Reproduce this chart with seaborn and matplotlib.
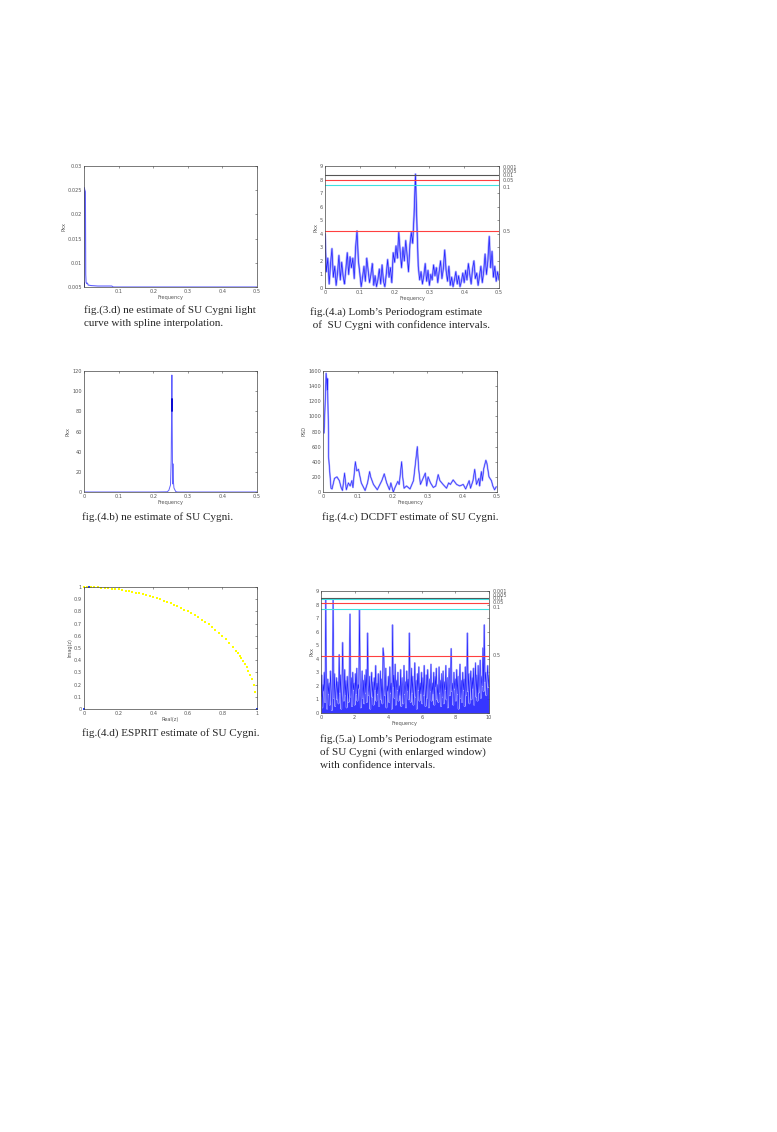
import numpy as np
import matplotlib
matplotlib.use('Agg')
import matplotlib.pyplot as plt
import seaborn as sns

# fig.(3.d) spline-interpolated light curve estimate
f_3d = [0.0, 0.001, 0.002, 0.003, 0.004, 0.005, 0.006, 0.008, 0.01, 0.012,
        0.02, 0.04, 0.06, 0.08, 0.085, 0.1, 0.2, 0.3, 0.4, 0.5]
p_3d = [0.0058, 0.0255, 0.0251, 0.0249, 0.0247, 0.0076, 0.0060, 0.0057, 0.0058, 0.0054,
        0.0053, 0.0052, 0.0052, 0.0052, 0.0050, 0.0050, 0.0050, 0.0050, 0.0050, 0.0050]

# fig.(4.a) Lomb periodogram, 0..0.5
p_4a = [4.0, 1.2, 2.2, 0.3, 1.8, 2.9, 0.8, 1.6, 0.2, 1.1,
        2.4, 0.6, 1.9, 0.9, 0.3, 1.4, 2.6, 1.0, 2.3, 1.5,
        2.2, 0.7, 3.0, 4.2, 2.0, 1.1, 0.1, 0.8, 1.6, 0.5,
        2.2, 1.3, 0.4, 1.0, 1.8, 0.2, 0.9, 0.1, 0.6, 1.4,
        0.3, 1.7, 0.5, 0.1, 1.0, 2.1, 0.8, 1.5, 0.4, 2.6,
        1.9, 3.1, 2.2, 4.1, 2.7, 1.5, 3.0, 2.0, 3.5, 2.4,
        1.2, 3.2, 4.1, 3.3, 5.4, 8.4, 4.8, 1.6, 0.6, 1.2,
        0.3, 0.9, 1.8, 0.5, 1.3, 0.2, 1.0, 0.6, 1.7, 0.9,
        1.5, 0.4, 1.2, 2.0, 0.7, 1.4, 2.8, 1.3, 0.5, 1.6,
        0.2, 0.8, 0.1, 0.6, 1.2, 0.3, 0.9, 0.1, 0.5, 1.1,
        0.4, 1.3, 0.6, 1.8, 1.0, 0.3, 1.4, 2.0, 0.7, 1.1,
        0.2, 0.9, 1.6, 0.4, 1.2, 2.5, 1.0, 2.0, 3.8, 1.5,
        2.7, 0.8, 1.6, 0.5, 1.2, 0.6]
lines_4a = [8.33, 7.94, 7.57, 4.17]
line_cols_4a = ['#555555', '#ff4040', '#40e0e0', '#ff4040']
sig_labels = ['0.001', '0.005', '0.01', '0.05', '0.1', '0.5']
sig_pos_4a = [8.9, 8.6, 8.3, 7.95, 7.45, 4.17]

# fig.(4.b) estimate
f_4b = [0.0, 0.1, 0.2, 0.24, 0.245, 0.25, 0.252, 0.254, 0.2545, 0.256, 0.257, 0.258,
        0.26, 0.265, 0.27, 0.3, 0.4, 0.5]
p_4b = [0.0, 0.0, 0.0, 0.2, 1.5, 7.0, 32.0, 116.0, 90.0, 8.0, 28.0, 12.0,
        4.0, 0.5, 0.0, 0.0, 0.0, 0.0]
peak_core_4b = [80.0, 92.0]

# fig.(4.c) DCDFT
f_4c = [0.003, 0.006, 0.009, 0.012, 0.013, 0.014, 0.016, 0.016, 0.023, 0.026,
        0.033, 0.040, 0.047, 0.052, 0.056, 0.062, 0.067, 0.073, 0.078, 0.083,
        0.086, 0.093, 0.097, 0.102, 0.110, 0.121, 0.128, 0.134, 0.137, 0.145,
        0.156, 0.169, 0.176, 0.183, 0.191, 0.195, 0.202, 0.207, 0.215, 0.219,
        0.226, 0.229, 0.233, 0.240, 0.250, 0.260, 0.271, 0.275, 0.280, 0.294,
        0.298, 0.302, 0.309, 0.317, 0.324, 0.331, 0.336, 0.345, 0.355, 0.361,
        0.366, 0.374, 0.384, 0.393, 0.403, 0.410, 0.420, 0.424, 0.431, 0.436,
        0.441, 0.448, 0.450, 0.455, 0.458, 0.462, 0.468, 0.471, 0.477, 0.484,
        0.488, 0.493, 0.498]
p_4c = [780, 1150, 1570, 1350, 1500, 1200, 780, 470, 50, 40,
        180, 200, 150, 60, 20, 250, 30, 120, 80, 150,
        60, 400, 280, 300, 120, 20, 120, 270, 200, 100,
        30, 150, 240, 120, 30, 120, 0, 60, 140, 100,
        400, 200, 50, 80, 40, 150, 600, 300, 100, 250,
        80, 200, 120, 60, 80, 230, 150, 100, 50, 120,
        100, 160, 100, 80, 100, 40, 150, 50, 150, 300,
        100, 180, 80, 270, 150, 310, 420, 380, 200, 150,
        80, 30, 70]

# fig.(4.d) ESPRIT roots
real_z = [0.00, 0.02, 0.04, 0.06, 0.08, 0.10, 0.12, 0.14, 0.16, 0.18,
          0.20, 0.22, 0.24, 0.26, 0.28, 0.30, 0.32, 0.34, 0.36, 0.38,
          0.40, 0.42, 0.44, 0.46, 0.48, 0.50, 0.52, 0.54, 0.56, 0.58,
          0.60, 0.62, 0.64, 0.66, 0.68, 0.70, 0.72, 0.74, 0.76, 0.78,
          0.80, 0.82, 0.84, 0.86, 0.88, 0.89, 0.90, 0.91, 0.92, 0.93,
          0.94, 0.95, 0.96, 0.97, 0.98, 0.99]
imag_z = [1.000, 1.000, 0.999, 0.998, 0.997, 0.995, 0.993, 0.990, 0.987, 0.984,
          0.980, 0.975, 0.971, 0.966, 0.960, 0.954, 0.947, 0.940, 0.933, 0.925,
          0.917, 0.908, 0.898, 0.888, 0.877, 0.866, 0.854, 0.842, 0.828, 0.815,
          0.800, 0.785, 0.768, 0.751, 0.733, 0.714, 0.694, 0.673, 0.650, 0.626,
          0.600, 0.572, 0.543, 0.510, 0.475, 0.456, 0.436, 0.415, 0.392, 0.368,
          0.341, 0.312, 0.280, 0.243, 0.199, 0.141]
real_other = [0.03, 0.0, 1.0]
imag_other = [1.0, 0.0, 0.0]

# fig.(5.a) Lomb periodogram, enlarged window, 0..10
p_5a = [1.2, 2.8, 0.4, 2.1, 1.6, 3.0, 0.8, 8.4, 1.9, 0.3, 2.5, 1.4, 2.2, 0.6, 3.1, 1.8, 0.2, 2.4, 8.4, 1.1, 2.9, 0.5, 1.7, 2.6, 1.0,
        2.3, 0.7, 4.3, 1.5, 2.8, 0.3, 1.9, 5.2, 2.0, 0.9, 3.2, 1.3, 2.4, 0.4, 2.7, 1.6, 0.8, 3.4, 7.3, 1.2, 2.6, 0.5, 3.0, 1.7, 2.2,
        0.6, 2.9, 1.4, 3.3, 0.9, 2.1, 1.8, 7.6, 2.5, 0.4, 1.6, 3.1, 1.1, 2.4, 0.7, 2.8, 1.5, 3.2, 0.8, 5.9, 2.0, 1.3, 2.7, 0.3, 1.9,
        3.0, 1.2, 2.3, 0.6, 2.6, 1.7, 3.5, 0.9, 2.2, 1.4, 2.9, 0.5, 1.8, 3.1, 1.0, 2.5, 0.7, 4.8, 4.3, 2.1, 1.3, 3.3, 0.4, 2.0, 1.6,
        2.7, 0.8, 3.4, 1.5, 2.2, 0.3, 6.5, 1.9, 2.8, 1.1, 3.6, 0.6, 2.4, 1.7, 3.0, 0.9, 2.0, 1.3, 3.2, 0.5, 2.6, 1.8, 0.7, 3.5, 1.4,
        2.3, 0.4, 3.1, 1.6, 2.5, 1.0, 5.9, 2.1, 0.8, 3.3, 1.5, 2.7, 0.6, 1.9, 3.7, 1.2, 2.4, 0.3, 2.9, 1.7, 3.4, 0.9, 2.2, 1.4, 3.0,
        0.7, 2.6, 1.3, 3.5, 1.8, 0.5, 2.8, 1.1, 3.2, 2.0, 0.4, 2.5, 1.6, 3.6, 0.9, 2.2, 1.4, 3.0, 0.6, 2.7, 1.9, 3.3, 1.0, 2.1, 0.8,
        3.4, 1.5, 2.4, 0.5, 2.9, 1.2, 3.1, 0.7, 2.3, 1.7, 3.5, 1.0, 2.6, 0.4, 2.0, 3.3, 1.3, 2.8, 4.75, 1.6, 2.2, 0.6, 3.0, 1.8, 2.5,
        0.9, 3.2, 1.4, 2.7, 0.3, 2.1, 3.6, 1.1, 2.4, 0.8, 3.0, 1.7, 2.5, 0.5, 3.4, 1.3, 2.0, 5.9, 1.6, 2.9, 0.7, 2.3, 3.1, 1.0, 2.6,
        1.8, 3.3, 0.6, 2.2, 3.7, 1.2, 2.8, 0.9, 3.5, 1.5, 2.4, 3.9, 1.1, 2.7, 2.0, 4.8, 1.6, 6.5, 2.3, 3.0, 1.3, 2.6, 3.5, 1.9, 2.8]
lines_5a = [8.45, 8.38, 8.09, 7.64, 4.24]
line_cols_5a = ['#555555', '#40e0e0', '#ff4040', '#40e0e0', '#ff4040']
sig_pos_5a = [8.95, 8.7, 8.45, 8.15, 7.75, 4.24]

sns.set_style('white')
plt.rcParams['font.family'] = ['DejaVu Sans']
TICK = 3.6
LIGHT = '#a8a8ff'
DARK = '#2020ff'

fig = plt.figure(figsize=(7.77, 11.32), dpi=100)


def box(px):
    # pixel box (left, top, right, bottom) -> figure axes
    l, t, r, b = px
    return fig.add_axes([l / 777, 1 - b / 1132, (r - l) / 777, (b - t) / 1132])


def style(ax, xlabel, ylabel):
    for s in ax.spines.values():
        s.set_linewidth(0.5)
        s.set_color('#444444')
    ax.tick_params(direction='in', length=1.5, width=0.4, labelsize=TICK,
                   top=True, right=True, pad=1.5, colors='#444444', labelcolor='#555555')
    ax.set_xlabel(xlabel, fontsize=TICK, labelpad=0.5, color='#555555')
    ax.set_ylabel(ylabel, fontsize=TICK, labelpad=1, color='#555555')


def caption(x, y, lines):
    for i, s in enumerate(lines):
        fig.text(x / 777, 1 - (y + 13 * i) / 1132, s, fontsize=8,
                 family='Liberation Serif', va='center', ha='left')


# 3.d
ax = box((84, 166, 257, 287))
sns.lineplot(x=f_3d, y=p_3d, ax=ax, color='#6060ff', lw=0.8, estimator=None)
ax.plot([0, 0], [0.005, 0.0058], color='#0000aa', lw=1.2)
ax.set_xlim(0, 0.5)
ax.set_ylim(0.005, 0.03)
ax.set_xticks([0, 0.1, 0.2, 0.3, 0.4, 0.5], ['', '0.1', '0.2', '0.3', '0.4', '0.5'])
ax.set_yticks([0.005, 0.01, 0.015, 0.02, 0.025, 0.03],
              ['0.005', '0.01', '0.015', '0.02', '0.025', '0.03'])
style(ax, 'Frequency', 'Pxx')
caption(84, 310, ['fig.(3.d) ne estimate of SU Cygni light',
                  'curve with spline interpolation.'])

# 4.a
ax = box((325, 166, 499, 288))
f_4a = np.linspace(0, 0.5, len(p_4a))
sns.lineplot(x=f_4a, y=p_4a, ax=ax, color=LIGHT, lw=1.6, estimator=None)
sns.lineplot(x=f_4a, y=p_4a, ax=ax, color=DARK, lw=0.5, estimator=None)
for lv, c in zip(lines_4a, line_cols_4a):
    ax.axhline(lv, color=c, lw=0.8)
for s, lv in zip(sig_labels, sig_pos_4a):
    ax.text(1.02, lv, s, transform=ax.get_yaxis_transform(), fontsize=TICK,
            color='#555555', va='center')
ax.set_xlim(0, 0.5)
ax.set_ylim(0, 9)
ax.set_xticks([0, 0.1, 0.2, 0.3, 0.4, 0.5], ['0', '0.1', '0.2', '0.3', '0.4', '0.5'])
ax.set_yticks(range(10))
style(ax, 'Frequency', 'Pxx')
caption(310, 312, ["fig.(4.a) Lomb\u2019s Periodogram estimate",
                   " of  SU Cygni with confidence intervals."])

# 4.b
ax = box((84, 371, 257, 492))
sns.lineplot(x=f_4b, y=p_4b, ax=ax, color='#6060ff', lw=0.7, estimator=None, sort=False)
ax.plot([0.254, 0.254], peak_core_4b, color='#0000cc', lw=1.3)
ax.set_xlim(0, 0.5)
ax.set_ylim(0, 120)
ax.set_xticks([0, 0.1, 0.2, 0.3, 0.4, 0.5], ['0', '0.1', '0.2', '0.3', '0.4', '0.5'])
ax.set_yticks(range(0, 121, 20))
style(ax, 'Frequency', 'Pxx')
caption(82, 517, ['fig.(4.b) ne estimate of SU Cygni.'])

# 4.c
ax = box((323, 371, 497, 492))
sns.lineplot(x=f_4c, y=p_4c, ax=ax, color=LIGHT, lw=1.3, estimator=None, sort=False)
sns.lineplot(x=f_4c, y=p_4c, ax=ax, color=DARK, lw=0.4, estimator=None, sort=False)
ax.set_xlim(0, 0.5)
ax.set_ylim(0, 1600)
ax.set_xticks([0, 0.1, 0.2, 0.3, 0.4, 0.5], ['0', '0.1', '0.2', '0.3', '0.4', '0.5'])
ax.set_yticks(range(0, 1601, 200))
style(ax, 'Frequency', 'PSD')
caption(322, 517, ['fig.(4.c) DCDFT estimate of SU Cygni.'])

# 4.d
ax = box((84, 587, 257, 709))
sns.scatterplot(x=real_z, y=imag_z, ax=ax, color='#ffff00', marker='s', s=3.5,
                linewidth=0, clip_on=False)
sns.scatterplot(x=real_other, y=imag_other, ax=ax, color='#2040ff', marker='s', s=3.5,
                linewidth=0, clip_on=False)
ax.set_xlim(0, 1)
ax.set_ylim(0, 1)
ax.set_xticks([0, 0.2, 0.4, 0.6, 0.8, 1], ['0', '0.2', '0.4', '0.6', '0.8', '1'])
ax.set_yticks(np.round(np.arange(0, 1.01, 0.1), 1),
              ['0', '0.1', '0.2', '0.3', '0.4', '0.5', '0.6', '0.7', '0.8', '0.9', '1'])
style(ax, 'Real(z)', 'Imag(z)')
caption(82, 733, ['fig.(4.d) ESPRIT estimate of SU Cygni.'])

# 5.a
ax = box((321, 591, 489, 713))
f_5a = np.linspace(0, 10, len(p_5a))
sns.lineplot(x=f_5a, y=p_5a, ax=ax, color=LIGHT, lw=1.2, estimator=None)
ax.fill_between(f_5a, 0, p_5a, color=DARK, alpha=0.9, lw=0)
sns.lineplot(x=f_5a, y=p_5a, ax=ax, color=DARK, lw=0.4, estimator=None)
for lv, c in zip(lines_5a, line_cols_5a):
    ax.axhline(lv, color=c, lw=0.8)
for s, lv in zip(sig_labels, sig_pos_5a):
    ax.text(1.02, lv, s, transform=ax.get_yaxis_transform(), fontsize=TICK,
            color='#555555', va='center')
ax.set_xlim(0, 10)
ax.set_ylim(0, 9)
ax.set_xticks([0, 2, 4, 6, 8, 10])
ax.set_yticks(range(10))
style(ax, 'Frequency', 'Pxx')
caption(320, 739, ["fig.(5.a) Lomb\u2019s Periodogram estimate",
                   "of SU Cygni (with enlarged window)",
                   "with confidence intervals."])

fig.savefig('out.png', dpi=100)
